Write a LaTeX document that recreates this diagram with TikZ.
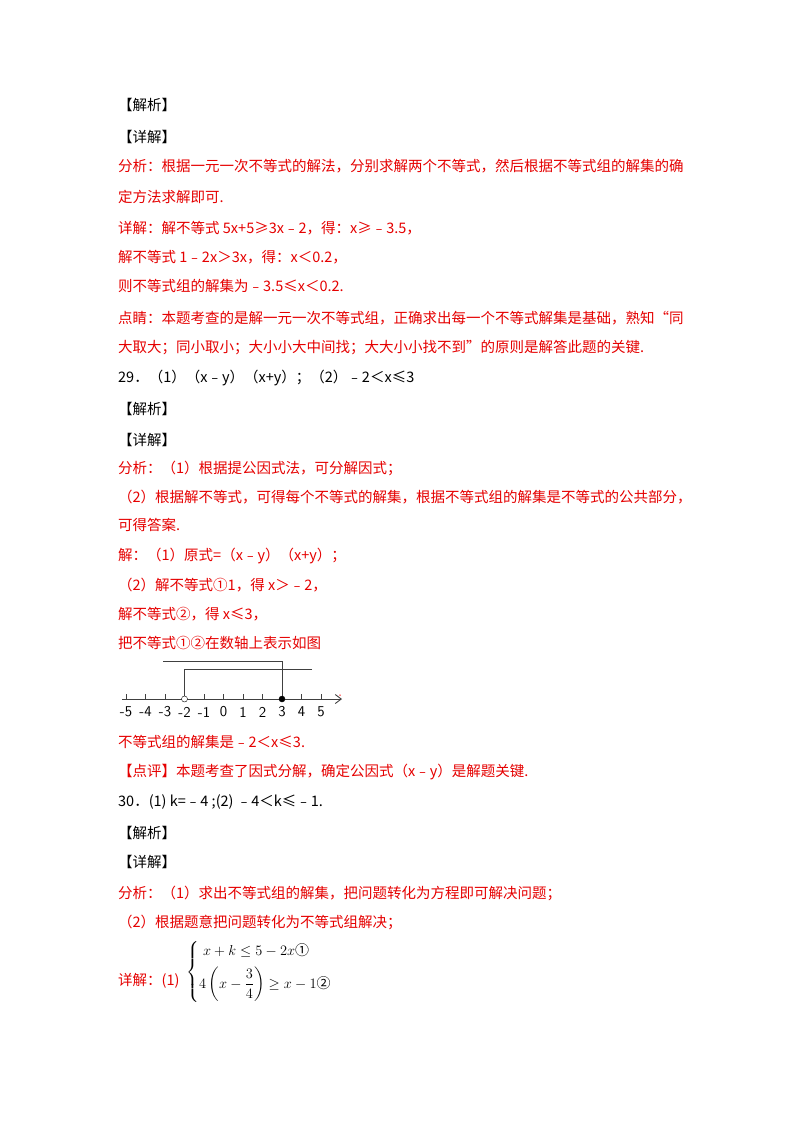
\documentclass[tikz,border=0pt]{standalone}
\usepackage{fontspec}
\setmainfont{Liberation Serif}
\newfontfamily\cjk{Noto Sans CJK SC}
\usepackage{amsmath}
\usetikzlibrary{arrows.meta}
\begin{document}
\begin{tikzpicture}[x=1pt,y=-1pt,
  t/.style={anchor=west,inner sep=0pt,font=\fontsize{14.5}{16}\cjk},
  r/.style={t,text=red!90!black},
  b/.style={t,text=black},
  ax/.style={line width=0.9pt,black!75},
  lab/.style={font=\fontsize{15}{16}\selectfont\sffamily,inner sep=0pt}]
\useasboundingbox (0,0) rectangle (800,1132);
\node[b] (l1) at (118,105) {【解析】};
\node[b] (l2) at (118,137) {【详解】};
\node[r] (l3) at (118,166) {分析：根据一元一次不等式的解法，分别求解两个不等式，然后根据不等式组的解集的确};
\node[r] (l4) at (118,197) {定方法求解即可.};
\node[r] (l5) at (118,228) {详解：解不等式 5x+5≥3x﹣2，得：x≥﹣3.5，};
\node[r] (l6) at (118,257) {解不等式 1﹣2x＞3x，得：x＜0.2，};
\node[r] (l7) at (118,286) {则不等式组的解集为﹣3.5≤x＜0.2.};
\node[r] (l8) at (118,318) {点睛：本题考查的是解一元一次不等式组，正确求出每一个不等式解集是基础，熟知“同};
\node[r] (l9) at (118,348) {大取大；同小取小；大小小大中间找；大大小小找不到”的原则是解答此题的关键.};
\node[b] (l10) at (118,378) {29．（1）（x﹣y）（x+y）；（2）﹣2＜x≤3};
\node[b] (l11) at (118,409) {【解析】};
\node[b] (l12) at (118,440) {【详解】};
\node[r] (l13) at (118,468) {分析：（1）根据提公因式法，可分解因式；};
\node[r] (l14) at (118,497) {（2）根据解不等式，可得每个不等式的解集，根据不等式组的解集是不等式的公共部分，};
\node[r] (l15) at (118,525) {可得答案.};
\node[r] (l16) at (118,556) {解：（1）原式=（x﹣y）（x+y）；};
\node[r] (l17) at (118,585) {（2）解不等式①1，得 x＞﹣2，};
\node[r] (l18) at (118,614) {解不等式②，得 x≤3，};
\node[r] (l19) at (118,643) {把不等式①②在数轴上表示如图};
% number line
\coordinate (a0) at (122,699);
\coordinate (a1) at (342,699);
\draw[ax,-{Straight Barb[length=6pt,width=9pt]}] (a0) -- (a1);
\foreach \i in {-5,...,5}{
  \draw[ax] (223.5+19.5*\i,699) -- (223.5+19.5*\i,694);
  \node[lab] (n\i) at (223.5+19.5*\i,712) {\ifnum\i<0 -\the\numexpr-\i\relax\else\i\fi};
}
\coordinate (u0) at (163,661);
\coordinate (u1) at (282,661);
\coordinate (w0) at (184.5,669);
\coordinate (w1) at (312,669);
\draw[ax] (u0) -- (u1) -- (282,699);
\draw[ax] (w1) -- (w0) -- (184.5,699);
\node[circle,draw=black,fill=white,inner sep=0pt,minimum size=6pt] (p1) at (184.5,699) {};
\node[circle,draw=black,fill=black,inner sep=0pt,minimum size=6pt] (p2) at (282,699) {};
\node[circle,fill=red,inner sep=0pt,minimum size=1.5pt] (dot) at (340,695) {};
\node[r] (l20) at (118,742) {不等式组的解集是﹣2＜x≤3.};
\node[r] (l21) at (118,772) {【点评】本题考查了因式分解，确定公因式（x﹣y）是解题关键.};
\node[b] (l22) at (118,802) {30．(1) k=﹣4 ;(2) ﹣4＜k≤﹣1.};
\node[b] (l23) at (118,833) {【解析】};
\node[b] (l24) at (118,862) {【详解】};
\node[r] (l25) at (118,893) {分析：（1）求出不等式组的解集，把问题转化为方程即可解决问题；};
\node[r] (l26) at (118,922) {（2）根据题意把问题转化为不等式组解决；};
\node[r] (l27) at (118,981) {详解：(1)};
\node[anchor=west,inner sep=0pt,font=\fontsize{14}{16}\selectfont] (eq) at (186,972)
 {$\begin{cases} \;x+k\le 5-2x\text{\cjk ①}\\[6pt] 4\left(x-\dfrac{3}{4}\right)\ge x-1\text{\cjk ②}\end{cases}$};
\end{tikzpicture}
\end{document}
